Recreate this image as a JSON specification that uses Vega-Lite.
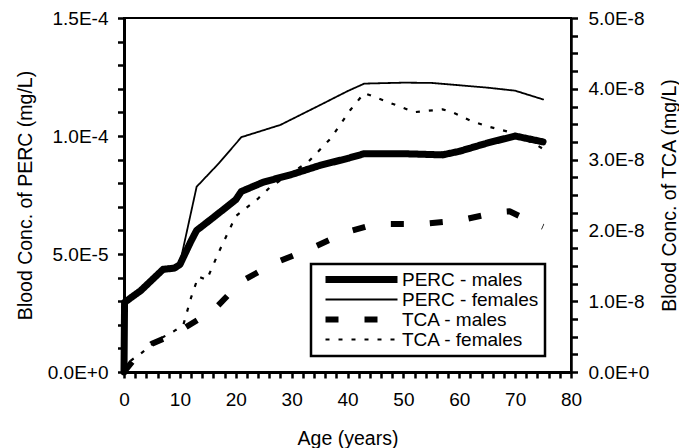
{
  "$schema": "https://vega.github.io/schema/vega-lite/v6.json",
  "width": 447,
  "height": 354,
  "autosize": {"type": "none"},
  "padding": {"left": 124, "top": 18, "right": 108, "bottom": 76},
  "background": "white",
  "config": {
    "font": "Liberation Sans",
    "view": {"stroke": "black", "strokeWidth": 2},
    "axis": {
      "labelFont": "Liberation Sans",
      "titleFont": "Liberation Sans",
      "labelFontSize": 19,
      "titleFontSize": 19.5,
      "titleFontWeight": "normal",
      "labelColor": "black",
      "titleColor": "black",
      "domainColor": "black",
      "tickColor": "black",
      "grid": false,
      "labelFlush": false,
      "labelOverlap": false
    }
  },
  "datasets": {
    "perc": [
      {"age": 0, "value": 0, "series": "PERC - males"},
      {"age": 0.1, "value": 2.95e-5, "series": "PERC - males"},
      {"age": 3, "value": 3.45e-5, "series": "PERC - males"},
      {"age": 5, "value": 3.9e-5, "series": "PERC - males"},
      {"age": 7, "value": 4.35e-5, "series": "PERC - males"},
      {"age": 9, "value": 4.4e-5, "series": "PERC - males"},
      {"age": 10, "value": 4.55e-5, "series": "PERC - males"},
      {"age": 12, "value": 5.55e-5, "series": "PERC - males"},
      {"age": 13, "value": 6.0e-5, "series": "PERC - males"},
      {"age": 16, "value": 6.55e-5, "series": "PERC - males"},
      {"age": 20, "value": 7.3e-5, "series": "PERC - males"},
      {"age": 21, "value": 7.65e-5, "series": "PERC - males"},
      {"age": 25, "value": 8.05e-5, "series": "PERC - males"},
      {"age": 30, "value": 8.37e-5, "series": "PERC - males"},
      {"age": 35, "value": 8.75e-5, "series": "PERC - males"},
      {"age": 40, "value": 9.05e-5, "series": "PERC - males"},
      {"age": 43, "value": 9.25e-5, "series": "PERC - males"},
      {"age": 50, "value": 9.25e-5, "series": "PERC - males"},
      {"age": 57, "value": 9.2e-5, "series": "PERC - males"},
      {"age": 60, "value": 9.35e-5, "series": "PERC - males"},
      {"age": 65, "value": 9.7e-5, "series": "PERC - males"},
      {"age": 70, "value": 1.0e-4, "series": "PERC - males"},
      {"age": 73, "value": 9.85e-5, "series": "PERC - males"},
      {"age": 75, "value": 9.75e-5, "series": "PERC - males"},
      {"age": 0, "value": 0, "series": "PERC - females"},
      {"age": 0.1, "value": 2.95e-5, "series": "PERC - females"},
      {"age": 3, "value": 3.45e-5, "series": "PERC - females"},
      {"age": 5, "value": 3.9e-5, "series": "PERC - females"},
      {"age": 7, "value": 4.35e-5, "series": "PERC - females"},
      {"age": 9, "value": 4.4e-5, "series": "PERC - females"},
      {"age": 10, "value": 4.6e-5, "series": "PERC - females"},
      {"age": 13, "value": 7.85e-5, "series": "PERC - females"},
      {"age": 15, "value": 8.35e-5, "series": "PERC - females"},
      {"age": 17, "value": 8.85e-5, "series": "PERC - females"},
      {"age": 21, "value": 9.95e-5, "series": "PERC - females"},
      {"age": 28, "value": 1.047e-4, "series": "PERC - females"},
      {"age": 35, "value": 1.13e-4, "series": "PERC - females"},
      {"age": 40, "value": 1.19e-4, "series": "PERC - females"},
      {"age": 43, "value": 1.222e-4, "series": "PERC - females"},
      {"age": 50, "value": 1.226e-4, "series": "PERC - females"},
      {"age": 55, "value": 1.225e-4, "series": "PERC - females"},
      {"age": 60, "value": 1.215e-4, "series": "PERC - females"},
      {"age": 65, "value": 1.205e-4, "series": "PERC - females"},
      {"age": 70, "value": 1.192e-4, "series": "PERC - females"},
      {"age": 75, "value": 1.155e-4, "series": "PERC - females"}
    ],
    "tca": [
      {"age": 0, "value": 0, "series": "TCA - males"},
      {"age": 2, "value": 2.0e-9, "series": "TCA - males"},
      {"age": 5, "value": 4.0e-9, "series": "TCA - males"},
      {"age": 8, "value": 5.0e-9, "series": "TCA - males"},
      {"age": 11, "value": 6.3e-9, "series": "TCA - males"},
      {"age": 16, "value": 8.7e-9, "series": "TCA - males"},
      {"age": 21, "value": 1.28e-8, "series": "TCA - males"},
      {"age": 27, "value": 1.54e-8, "series": "TCA - males"},
      {"age": 33, "value": 1.73e-8, "series": "TCA - males"},
      {"age": 40, "value": 1.98e-8, "series": "TCA - males"},
      {"age": 45, "value": 2.09e-8, "series": "TCA - males"},
      {"age": 53, "value": 2.09e-8, "series": "TCA - males"},
      {"age": 60, "value": 2.14e-8, "series": "TCA - males"},
      {"age": 67, "value": 2.26e-8, "series": "TCA - males"},
      {"age": 69, "value": 2.27e-8, "series": "TCA - males"},
      {"age": 73, "value": 2.12e-8, "series": "TCA - males"},
      {"age": 75, "value": 2.05e-8, "series": "TCA - males"},
      {"age": 0, "value": 0, "series": "TCA - females"},
      {"age": 1, "value": 1.5e-9, "series": "TCA - females"},
      {"age": 3, "value": 2.6e-9, "series": "TCA - females"},
      {"age": 6, "value": 4.5e-9, "series": "TCA - females"},
      {"age": 9, "value": 5.8e-9, "series": "TCA - females"},
      {"age": 10.6, "value": 6.6e-9, "series": "TCA - females"},
      {"age": 12, "value": 1.05e-8, "series": "TCA - females"},
      {"age": 13.3, "value": 1.35e-8, "series": "TCA - females"},
      {"age": 14.8, "value": 1.3e-8, "series": "TCA - females"},
      {"age": 17, "value": 1.7e-8, "series": "TCA - females"},
      {"age": 20, "value": 2.2e-8, "series": "TCA - females"},
      {"age": 24, "value": 2.45e-8, "series": "TCA - females"},
      {"age": 26, "value": 2.6e-8, "series": "TCA - females"},
      {"age": 33, "value": 2.97e-8, "series": "TCA - females"},
      {"age": 37, "value": 3.3e-8, "series": "TCA - females"},
      {"age": 40.5, "value": 3.7e-8, "series": "TCA - females"},
      {"age": 43, "value": 3.94e-8, "series": "TCA - females"},
      {"age": 47, "value": 3.82e-8, "series": "TCA - females"},
      {"age": 52, "value": 3.67e-8, "series": "TCA - females"},
      {"age": 57, "value": 3.71e-8, "series": "TCA - females"},
      {"age": 59, "value": 3.66e-8, "series": "TCA - females"},
      {"age": 62, "value": 3.55e-8, "series": "TCA - females"},
      {"age": 65, "value": 3.47e-8, "series": "TCA - females"},
      {"age": 69, "value": 3.39e-8, "series": "TCA - females"},
      {"age": 74, "value": 3.2e-8, "series": "TCA - females"},
      {"age": 75, "value": 3.15e-8, "series": "TCA - females"}
    ]
  },
  "layer": [
    {
      "data": {"name": "perc"},
      "mark": {"type": "line", "strokeJoin": "round", "strokeCap": "round"},
      "encoding": {
        "x": {"field": "age", "type": "quantitative", "scale": {"domain": [0, 80], "nice": false},
          "axis": {"orient": "bottom",
            "values": [0, 2, 4, 6, 8, 10, 12, 14, 16, 18, 20, 22, 24, 26, 28, 30, 32, 34, 36, 38, 40, 42, 44, 46, 48, 50, 52, 54, 56, 58, 60, 62, 64, 66, 68, 70, 72, 74, 76, 78, 80],
            "labelExpr": "datum.value % 10 == 0 ? datum.label : ''",
            "tickSize": 6, "tickWidth": 2.5, "domain": true, "domainWidth": 3, "labelPadding": 12,
            "title": "Age (years)", "titlePadding": 20,
            "encode": {"ticks": {
              "y": {"condition": {"test": "datum.value % 10 == 0", "value": -6}, "value": -4},
              "y2": {"condition": {"test": "datum.value % 10 == 0", "value": 6}, "value": 4}}}}},
        "y": {"field": "value", "type": "quantitative", "scale": {"domain": [0, 0.00015], "nice": false},
          "axis": {"orient": "left",
            "values": [0, 0.00001, 0.00002, 0.00003, 0.00004, 0.00005, 0.00006, 0.00007, 0.00008, 0.00009, 0.0001, 0.00011, 0.00012, 0.00013, 0.00014, 0.00015],
            "labelExpr": "abs(datum.value / 0.00005 - round(datum.value / 0.00005)) < 0.001 ? upper(format(datum.value, '.1e')) : ''",
            "tickSize": 6.5, "tickWidth": 2.5, "domain": true, "domainWidth": 3, "labelPadding": 9.5,
            "title": "Blood Conc. of PERC (mg/L)", "titlePadding": 12,
            "encode": {"ticks": {
              "x": {"condition": {"test": "abs(datum.value / 0.00005 - round(datum.value / 0.00005)) < 0.001", "value": 6.5}, "value": 5.5},
              "x2": {"condition": {"test": "abs(datum.value / 0.00005 - round(datum.value / 0.00005)) < 0.001", "value": -6.5}, "value": -5.5}}}}},
        "color": {"field": "series", "type": "nominal",
          "scale": {"domain": ["PERC - males", "PERC - females", "TCA - males", "TCA - females"], "range": ["black", "black", "black", "black"]},
          "legend": {"title": null, "orient": "none", "legendX": 187, "legendY": 246, "symbolType": "stroke", "symbolSize": 5184, "clipHeight": 19, "rowPadding": 0, "padding": 6, "strokeColor": "black", "labelFontSize": 19, "labelFont": "Liberation Sans", "labelColor": "black", "labelOffset": 1, "symbolOffset": 5, "labelLimit": 300, "encode": {"legend": {"update": {"strokeWidth": {"value": 2.5}}}}}},
        "strokeDash": {"field": "series", "type": "nominal",
          "scale": {"domain": ["PERC - males", "PERC - females", "TCA - males", "TCA - females"], "range": [[1, 0], [1, 0], [13, 26], [4, 9]]},
          "legend": {"title": null, "orient": "none", "legendX": 187, "legendY": 246, "symbolType": "stroke", "symbolSize": 5184, "clipHeight": 19, "rowPadding": 0, "padding": 6, "strokeColor": "black", "labelFontSize": 19, "labelFont": "Liberation Sans", "labelColor": "black", "labelOffset": 1, "symbolOffset": 5, "labelLimit": 300}},
        "strokeWidth": {"field": "series", "type": "nominal",
          "scale": {"type": "ordinal", "domain": ["PERC - males", "PERC - females", "TCA - males", "TCA - females"], "range": [7, 1.8, 6, 2.2]},
          "legend": {"title": null, "orient": "none", "legendX": 187, "legendY": 246, "symbolType": "stroke", "symbolSize": 5184, "clipHeight": 19, "rowPadding": 0, "padding": 6, "strokeColor": "black", "labelFontSize": 19, "labelFont": "Liberation Sans", "labelColor": "black", "labelOffset": 1, "symbolOffset": 5, "labelLimit": 300}}
      }
    },
    {
      "data": {"name": "tca"},
      "mark": {"type": "line", "strokeJoin": "round", "strokeCap": "butt"},
      "encoding": {
        "x": {"field": "age", "type": "quantitative", "axis": null},
        "y": {"field": "value", "type": "quantitative", "scale": {"domain": [0, 5e-8], "nice": false},
          "axis": {"orient": "right",
            "values": [0, 2.5e-9, 5e-9, 7.5e-9, 1e-8, 1.25e-8, 1.5e-8, 1.75e-8, 2e-8, 2.25e-8, 2.5e-8, 2.75e-8, 3e-8, 3.25e-8, 3.5e-8, 3.75e-8, 4e-8, 4.25e-8, 4.5e-8, 4.75e-8, 5e-8],
            "labelExpr": "abs(datum.value / 1e-8 - round(datum.value / 1e-8)) < 0.001 ? upper(format(datum.value, '.1e')) : ''",
            "tickSize": 6.5, "tickWidth": 2.5, "domain": true, "domainWidth": 2.5, "labelPadding": 10.5,
            "title": "Blood Conc. of TCA (mg/L)", "titleAngle": 270, "titleBaseline": "top", "titlePadding": 12,
            "encode": {"ticks": {
              "x": {"condition": {"test": "abs(datum.value / 1e-8 - round(datum.value / 1e-8)) < 0.001", "value": -6.5}, "value": -4.5},
              "x2": {"condition": {"test": "abs(datum.value / 1e-8 - round(datum.value / 1e-8)) < 0.001", "value": 6.5}, "value": 4.5}}}}},
        "color": {"field": "series", "type": "nominal",
          "scale": {"domain": ["PERC - males", "PERC - females", "TCA - males", "TCA - females"], "range": ["black", "black", "black", "black"]}},
        "strokeDash": {"field": "series", "type": "nominal",
          "scale": {"domain": ["PERC - males", "PERC - females", "TCA - males", "TCA - females"], "range": [[1, 0], [1, 0], [13, 26], [4, 9]]}},
        "strokeWidth": {"field": "series", "type": "nominal",
          "scale": {"type": "ordinal", "domain": ["PERC - males", "PERC - females", "TCA - males", "TCA - females"], "range": [7, 1.8, 6, 2.2]}}
      }
    }
  ],
  "resolve": {"scale": {"y": "independent"}, "axis": {"x": "independent", "y": "independent"}}
}
